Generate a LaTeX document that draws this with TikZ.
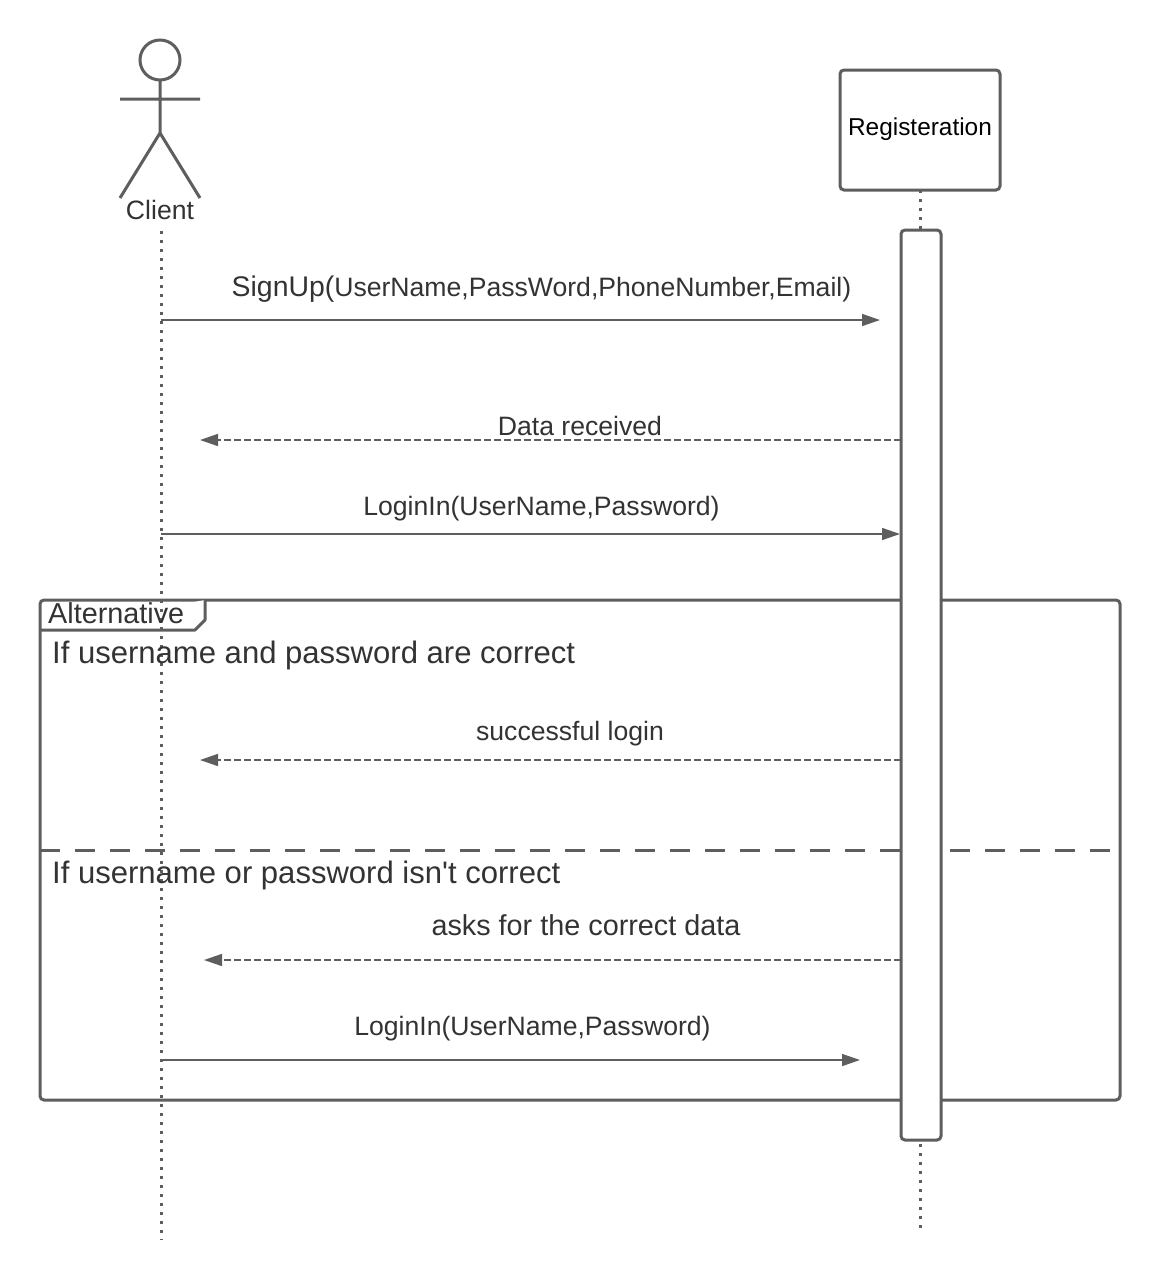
\documentclass[tikz,border=0pt]{standalone}
\usepackage{fontspec}
\setmainfont{Liberation Sans}
\usetikzlibrary{arrows.meta}
\definecolor{ln}{HTML}{5E5E5E}
\definecolor{tx}{HTML}{333333}
\tikzset{x=1pt,y=-1pt,
 shp/.style={draw=ln,line width=3pt,rounded corners=4pt,fill=white},
 life/.style={draw=ln,line width=3pt,dash pattern=on 3pt off 6pt},
 msg/.style={draw=ln,line width=1.5pt,-{Triangle[length=18pt,width=12pt,fill=ln]}},
 rep/.style={msg,dash pattern=on 7pt off 3pt,-{Triangle[length=18pt,width=12pt,fill=ln]}},
 lbl/.style={text=tx,inner sep=0pt,anchor=base,font=\fontsize{26.6pt}{30pt}\selectfont}}
\begin{document}
\begin{tikzpicture}
\useasboundingbox[fill=white] (0,0) rectangle (1160,1280);
% frame
\draw[shp] (40,600) rectangle (1120,1100);
\draw[draw=ln,line width=3pt,fill=white,line join=round] (40,630) -- (195,630) -- (205,620) -- (205,600);
\draw[draw=ln,line width=3pt,dash pattern=on 20pt off 15pt] (40,850) -- (1112,850);
% lifelines
\coordinate (cl1) at (161,231); \coordinate (cl2) at (161,1240);
\coordinate (rg1) at (920.5,190); \coordinate (rg2) at (920.5,1230);
\draw[life] (cl1) -- (cl2);
\draw[life] (rg1) -- (rg2);
% actor
\draw[draw=ln,line width=3pt] (160,60) circle (20);
\draw[draw=ln,line width=3pt] (160,80) -- (160,133) (120,99) -- (200,99) (120,198) -- (160,133) -- (200,198);
\node[lbl] (clientlbl) at (160,219) {Client};
% box
\node[shp,minimum width=160pt,minimum height=120pt,inner sep=0pt,text=black,font=\fontsize{24.4pt}{28pt}\selectfont] (reg) at (920,130) {\raisebox{6pt}{Registeration}};
% activation
\node[shp,minimum width=40pt,minimum height=910pt,inner sep=0pt] (act) at (921,685) {};
% messages
\coordinate (a1) at (161,320); \coordinate (b1) at (880,320);
\draw[msg] (a1) -- (b1);
\coordinate (a2) at (901,440); \coordinate (b2) at (200,440);
\draw[rep] (a2) -- (b2);
\coordinate (a3) at (161,534); \coordinate (b3) at (900,534);
\draw[msg] (a3) -- (b3);
\coordinate (a4) at (901,760); \coordinate (b4) at (200,760);
\draw[rep] (a4) -- (b4);
\coordinate (a5) at (901,960); \coordinate (b5) at (204,960);
\draw[rep] (a5) -- (b5);
\coordinate (a6) at (161,1060); \coordinate (b6) at (860,1060);
\draw[msg] (a6) -- (b6);
% labels
\node[lbl] (l1) at (541.5,296) {{\fontsize{28.4pt}{32pt}\selectfont SignUp(}UserName,PassWord,PhoneNumber,Email)};
\node[lbl] (l2) at (580,435) {Data received};
\node[lbl] (l3) at (541.5,515) {LoginIn(UserName,Password)};
\node[lbl] (l4) at (570,740) {successful login};
\node[lbl,font=\fontsize{28.8pt}{32pt}\selectfont] (l5) at (586,935) {asks for the correct data};
\node[lbl] (l6) at (532.5,1035) {LoginIn(UserName,Password)};
\node[lbl,anchor=base west,font=\fontsize{28.8pt}{32pt}\selectfont] (alt) at (48,623) {Alternative};
\node[lbl,anchor=base west,font=\fontsize{31.05pt}{34pt}\selectfont] (g1) at (52,663) {If username and password are correct};
\node[lbl,anchor=base west,font=\fontsize{31.05pt}{34pt}\selectfont] (g2) at (52,883) {If username or password isn\textquotesingle t correct};
\end{tikzpicture}
\end{document}
